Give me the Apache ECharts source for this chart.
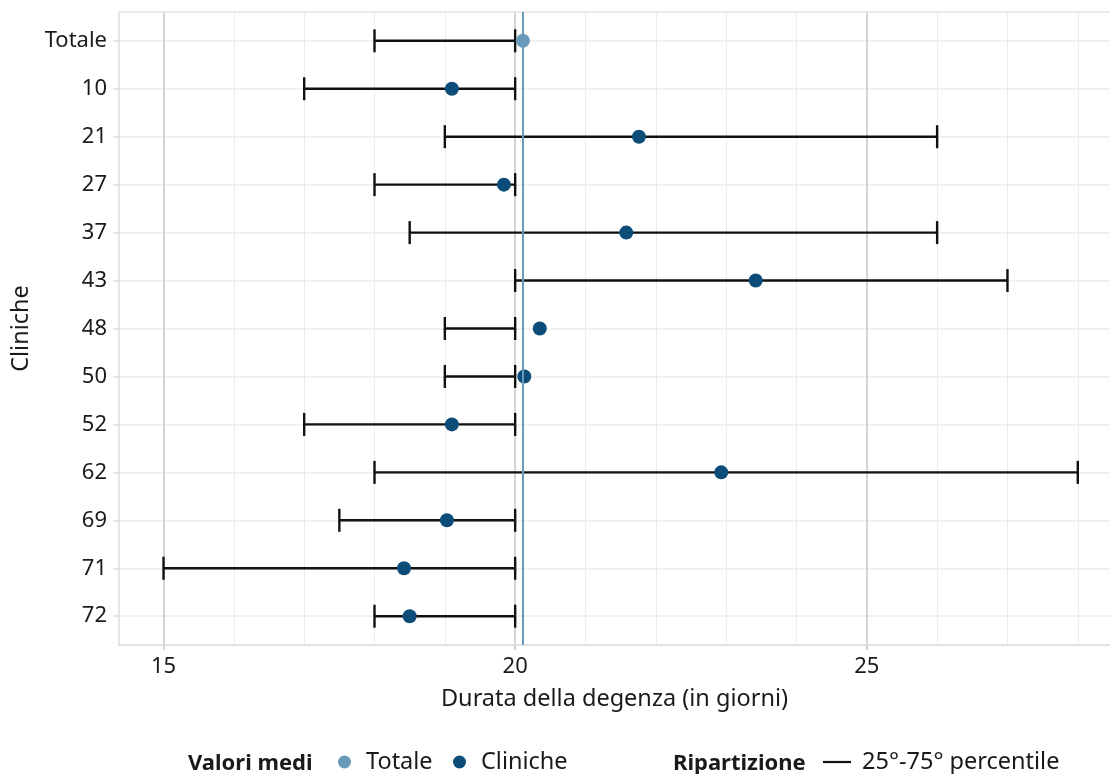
<!DOCTYPE html>
<html><head><meta charset="utf-8">
<script src="https://cdn.jsdelivr.net/npm/echarts@6/dist/echarts.min.js"></script>
<style>html,body{margin:0;padding:0;background:#fff}#c{width:1110px;height:774px}</style>
</head><body><div id="c"></div>
<script>
const categories = ['Totale','10','21','27','37','43','48','50','52','62','69','71','72'];
const means = [20.11, 19.1, 21.76, 19.84, 21.58, 23.42, 20.35, 20.13, 19.1, 22.93, 19.03, 18.42, 18.5];
const p25 = [18, 17, 19, 18, 18.5, 20, 19, 19, 17, 18, 17.5, 15, 18];
const p75 = [20, 20, 26, 20, 26, 27, 20, 20, 20, 28, 20, 20, 20];
const xMajorTicks = [15, 20, 25];
const xMinorTicks = [15, 16, 17, 18, 19, 20, 21, 22, 23, 24, 25, 26, 27, 28];
const rowPositions = [1, 2, 3, 4, 5, 6, 7, 8, 9, 10, 11, 12, 13];

const FONT = 'Noto Sans';
const X_MIN = 14.367, X_MAX = 28.458;

const errData = categories.map((c, i) => [rowPositions[i], p25[i], p75[i]]);
const totaleData = [[means[0], rowPositions[0]]];
const clinicheData = means.slice(1).map((m, i) => [m, rowPositions[i + 1]]);

const legendText = {color: '#1a1a1a', fontSize: 23.5, fontFamily: FONT};

const chart = echarts.init(document.getElementById('c'), null, {renderer: 'canvas'});
chart.setOption({
  backgroundColor: '#ffffff',
  animation: false,
  textStyle: {fontFamily: FONT},
  grid: {left: 119, right: 0, top: 12, bottom: 129, containLabel: false},
  xAxis: [
    {
      type: 'value', min: X_MIN, max: X_MAX, position: 'bottom',
      axisLine: {show: true, lineStyle: {color: '#d9d9d9', width: 1.5}},
      axisTick: {show: false, customValues: xMinorTicks},
      axisLabel: {show: false},
      splitLine: {show: true, lineStyle: {color: '#ececec', width: 1}}
    },
    {
      type: 'value', min: X_MIN, max: X_MAX, position: 'bottom',
      axisLine: {show: false},
      axisTick: {show: true, customValues: xMajorTicks, length: 5, lineStyle: {color: '#d4d4d4', width: 2}},
      axisLabel: {show: true, customValues: xMajorTicks, color: '#1a1a1a', fontSize: 22, fontFamily: FONT, margin: 11},
      splitLine: {show: true, lineStyle: {color: '#d4d4d4', width: 2}},
      name: 'Durata della degenza (in giorni)', nameLocation: 'middle', nameGap: 42,
      nameTextStyle: {color: '#1a1a1a', fontSize: 23.5, fontFamily: FONT}
    },
    {
      type: 'value', min: X_MIN, max: X_MAX, position: 'top',
      axisLine: {show: true, lineStyle: {color: '#e3e3e3', width: 1.5}},
      axisTick: {show: false}, axisLabel: {show: false}, splitLine: {show: false}
    }
  ],
  yAxis: {
    type: 'value', min: 0.4, max: 13.6, inverse: true,
    axisLine: {show: true, lineStyle: {color: '#dcdcdc', width: 1.5}},
    axisTick: {show: true, customValues: rowPositions, length: 6, lineStyle: {color: '#dcdcdc', width: 1.5}},
    axisLabel: {show: true, customValues: rowPositions, color: '#1a1a1a', fontSize: 22, fontFamily: FONT, margin: 12,
      formatter: v => categories[Math.round(v) - 1]},
    splitLine: {show: true, lineStyle: {color: '#ececec', width: 1.5}},
    name: 'Cliniche', nameLocation: 'middle', nameGap: 86, nameRotate: 90,
    nameTextStyle: {color: '#1a1a1a', fontSize: 23.5, fontFamily: FONT}
  },
  legend: [
    {
      data: [{name: 'Totale', icon: 'circle'}],
      left: 333, top: 745, itemWidth: 13, itemHeight: 13,
      selectedMode: false,
      textStyle: Object.assign({padding: [0, 0, 0, 10]}, legendText)
    },
    {
      data: [{name: 'Cliniche', icon: 'circle'}],
      left: 448, top: 745, itemWidth: 13, itemHeight: 13,
      selectedMode: false,
      textStyle: Object.assign({padding: [0, 0, 0, 10]}, legendText)
    },
    {
      data: [{name: '25°-75° percentile', icon: 'rect'}],
      left: 818, top: 745, itemWidth: 28, itemHeight: 2.2,
      selectedMode: false,
      textStyle: Object.assign({padding: [0, 0, 0, 6]}, legendText)
    }
  ],
  graphic: [
    {type: 'text', x: 188, y: 764, style: {text: 'Valori medi', font: 'bold 22px "' + FONT + '"', fill: '#1a1a1a', verticalAlign: 'middle'}},
    {type: 'text', x: 673, y: 764, style: {text: 'Ripartizione', font: 'bold 22px "' + FONT + '"', fill: '#1a1a1a', verticalAlign: 'middle'}}
  ],
  series: [
    {
      name: '25°-75° percentile', type: 'custom', xAxisIndex: 0, yAxisIndex: 0,
      data: errData, encode: {x: [1, 2], y: 0}, z: 2,
      itemStyle: {color: '#111111'},
      renderItem: function (params, api) {
        const y = api.value(0);
        const lo = api.coord([api.value(1), y]);
        const hi = api.coord([api.value(2), y]);
        const h = 11.5;
        const st = {stroke: '#111111', lineWidth: 2.4, fill: null};
        return {type: 'group', children: [
          {type: 'line', shape: {x1: lo[0], y1: lo[1], x2: hi[0], y2: hi[1]}, style: st},
          {type: 'line', shape: {x1: lo[0], y1: lo[1] - h, x2: lo[0], y2: lo[1] + h}, style: st},
          {type: 'line', shape: {x1: hi[0], y1: hi[1] - h, x2: hi[0], y2: hi[1] + h}, style: st}
        ]};
      },
      markLine: {
        silent: true, symbol: ['none', 'none'], label: {show: false},
        lineStyle: {color: '#6a9ab9', width: 2, type: 'solid'},
        data: [{xAxis: means[0]}]
      }
    },
    {
      name: 'Totale', type: 'scatter', xAxisIndex: 0, yAxisIndex: 0, z: 4,
      data: totaleData, symbol: 'circle', symbolSize: 14,
      itemStyle: {color: '#6a9ab9', opacity: 1}
    },
    {
      name: 'Cliniche', type: 'scatter', xAxisIndex: 0, yAxisIndex: 0, z: 4,
      data: clinicheData, symbol: 'circle', symbolSize: 14,
      itemStyle: {color: '#0b4d78', opacity: 1}
    }
  ]
});
</script></body></html>
